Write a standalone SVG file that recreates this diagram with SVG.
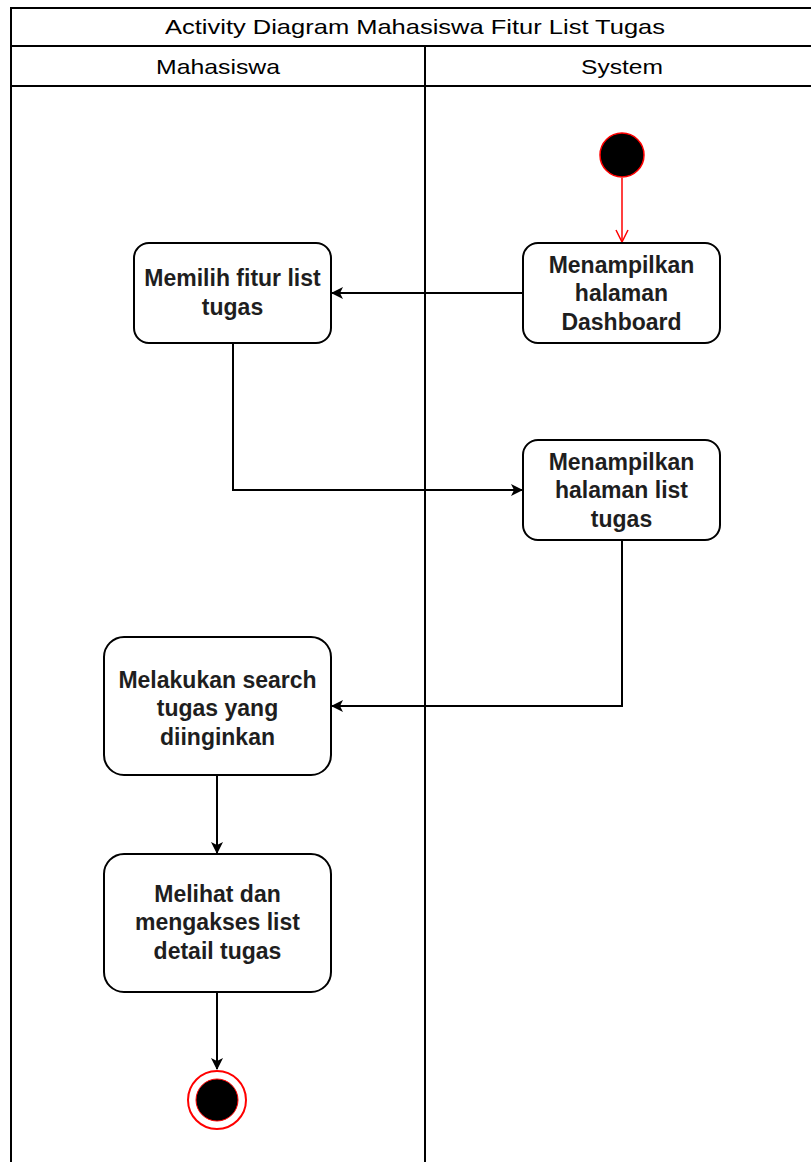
<svg xmlns="http://www.w3.org/2000/svg" width="811" height="1162" viewBox="0 0 811 1162">
  <style>
    .frame { fill: none; stroke: #000; stroke-width: 2; }
    .node rect { fill: #fff; stroke: #000; stroke-width: 2; }
    .label { font-family: "Liberation Sans", Arial, sans-serif; font-size: 23px; font-weight: bold; fill: #1e1e1e; text-anchor: middle; }
    .head { font-family: "Liberation Sans", Arial, sans-serif; font-size: 21px; fill: #000; text-anchor: middle; }
    .edge { fill: none; stroke: #000; stroke-width: 2; }
  </style>
  <defs>
    <marker id="arrow" viewBox="0 0 12 12" refX="11" refY="6" markerWidth="12" markerHeight="12" markerUnits="userSpaceOnUse" orient="auto">
      <path d="M0,0 L12,6 L0,12 L3,6 Z" fill="#000"/>
    </marker>
    <marker id="arrowRed" viewBox="0 0 14 14" refX="13" refY="7" markerWidth="14" markerHeight="14" markerUnits="userSpaceOnUse" orient="auto">
      <path d="M1,1 L13,7 L1,13" fill="none" stroke="#ff0000" stroke-width="1.5"/>
    </marker>
  </defs>
  <rect width="811" height="1162" fill="#fff"/>

  <!-- swimlane frame -->
  <g id="pool">
    <rect class="frame" x="11" y="8" width="810" height="1170"/>
    <line class="frame" x1="11" y1="46" x2="811" y2="46"/>
    <line class="frame" x1="11" y1="86" x2="811" y2="86"/>
    <line class="frame" x1="425" y1="46" x2="425" y2="1162"/>
    <text class="head" x="415" y="34" textLength="500" lengthAdjust="spacingAndGlyphs">Activity Diagram Mahasiswa Fitur List Tugas</text>
    <text class="head" x="218" y="74" textLength="124" lengthAdjust="spacingAndGlyphs">Mahasiswa</text>
    <text class="head" x="622" y="74" textLength="82" lengthAdjust="spacingAndGlyphs">System</text>
  </g>

  <!-- connectors -->
  <g id="edges">
    <line x1="622" y1="178" x2="622" y2="242" stroke="#ff0000" stroke-width="1.5" marker-end="url(#arrowRed)"/>
    <path class="edge" d="M523,293 L332,293" marker-end="url(#arrow)"/>
    <path class="edge" d="M233,343 L233,490 L522,490" marker-end="url(#arrow)"/>
    <path class="edge" d="M622,540 L622,706 L332,706" marker-end="url(#arrow)"/>
    <path class="edge" d="M217,775 L217,853" marker-end="url(#arrow)"/>
    <path class="edge" d="M217,992 L217,1069" marker-end="url(#arrow)"/>
  </g>

  <g id="start">
    <circle cx="622" cy="155" r="22" fill="#000" stroke="#ff0000" stroke-width="1.5"/>
  </g>

  <g id="n-dashboard" class="node">
    <rect x="523" y="243" width="197" height="100" rx="15"/>
    <text class="label" x="621.5" y="273">Menampilkan</text>
    <text class="label" x="621.5" y="301">halaman</text>
    <text class="label" x="621.5" y="330">Dashboard</text>
  </g>

  <g id="n-pilih" class="node">
    <rect x="134" y="243" width="197" height="100" rx="15"/>
    <text class="label" x="232.5" y="286">Memilih fitur list</text>
    <text class="label" x="232.5" y="315">tugas</text>
  </g>

  <g id="n-listtugas" class="node">
    <rect x="523" y="440" width="197" height="100" rx="15"/>
    <text class="label" x="621.5" y="470">Menampilkan</text>
    <text class="label" x="621.5" y="498">halaman list</text>
    <text class="label" x="621.5" y="527">tugas</text>
  </g>

  <g id="n-search" class="node">
    <rect x="104" y="637" width="227" height="138" rx="20"/>
    <text class="label" x="217.5" y="688">Melakukan search</text>
    <text class="label" x="217.5" y="716">tugas yang</text>
    <text class="label" x="217.5" y="745">diinginkan</text>
  </g>

  <g id="n-detail" class="node">
    <rect x="104" y="854" width="227" height="138" rx="20"/>
    <text class="label" x="217.5" y="902">Melihat dan</text>
    <text class="label" x="217.5" y="930">mengakses list</text>
    <text class="label" x="217.5" y="959">detail tugas</text>
  </g>

  <g id="end">
    <circle cx="217" cy="1100" r="29" fill="#fff" stroke="#ff0000" stroke-width="2"/>
    <circle cx="217" cy="1100" r="21" fill="#000" stroke="#ff0000" stroke-width="1"/>
  </g>
</svg>
